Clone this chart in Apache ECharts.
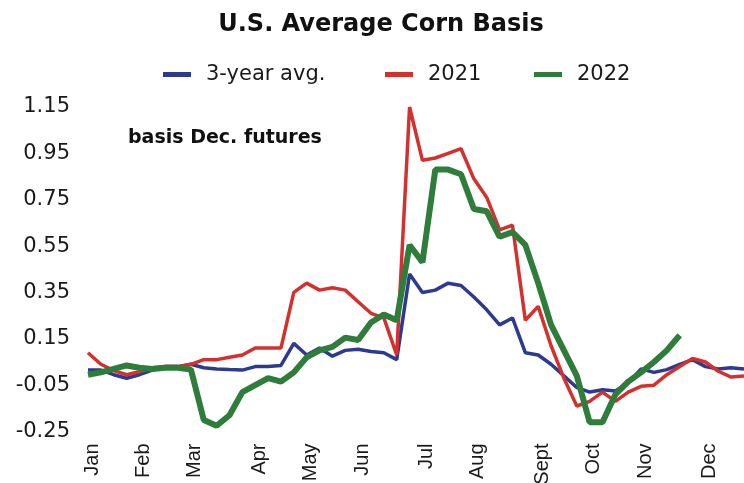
<!DOCTYPE html>
<html>
<head>
<meta charset="utf-8">
<script src="https://cdn.jsdelivr.net/npm/echarts@6/dist/echarts.min.js"></script>
<style>
  html, body { margin: 0; padding: 0; background: #ffffff; }
  #chart { width: 744px; height: 483px; }
</style>
</head>
<body>
<div id="chart"></div>
<script>
// Weekly corn basis vs. December futures, 52 weeks (index 0 = first week of Jan)
const weekCount = 52;
const monthNames = ['Jan', 'Feb', 'Mar', 'Apr', 'May', 'Jun', 'Jul', 'Aug', 'Sept', 'Oct', 'Nov', 'Dec'];
const monthStartWeek = [0, 4, 8, 13, 17, 21, 26, 30, 35, 39, 43, 48];
const yTickValues = [-0.25, -0.05, 0.15, 0.35, 0.55, 0.75, 0.95, 1.15];
const seriesNames = ['3-year avg.', '2021', '2022'];

const avg3yr = [
  0.015, 0.015, -0.005, -0.02, -0.005, 0.015, 0.03, 0.03, 0.04, 0.025,
  0.02, 0.017, 0.015, 0.03, 0.03, 0.035, 0.13, 0.08, 0.11, 0.075,
  0.10, 0.105, 0.095, 0.09, 0.06, 0.43, 0.35, 0.36, 0.39, 0.38,
  0.33, 0.275, 0.21, 0.24, 0.09, 0.08, 0.04, -0.01, -0.06, -0.08,
  -0.07, -0.075, -0.04, 0.02, 0.005, 0.017, 0.04, 0.06, 0.03, 0.02,
  0.025, 0.02
];
const basis2021 = [
  0.09, 0.04, 0.013, -0.005, 0.008, 0.025, 0.03, 0.03, 0.04, 0.06,
  0.06, 0.07, 0.08, 0.11, 0.11, 0.11, 0.35, 0.39, 0.36, 0.37,
  0.36, 0.31, 0.26, 0.24, 0.08, 1.15, 0.92, 0.93, 0.95, 0.97,
  0.84, 0.76, 0.62, 0.64, 0.23, 0.29, 0.12, -0.02, -0.14, -0.12,
  -0.08, -0.12, -0.08, -0.055, -0.05, -0.005, 0.03, 0.065, 0.05, 0.01,
  -0.015, -0.01
];
const basis2022 = [
  -0.005, 0.005, 0.02, 0.035, 0.025, 0.02, 0.025, 0.025, 0.017, -0.20,
  -0.225, -0.18, -0.08, -0.05, -0.02, -0.035, 0.005, 0.07, 0.10, 0.115,
  0.155, 0.145, 0.22, 0.255, 0.23, 0.555, 0.48, 0.88, 0.88, 0.86,
  0.71, 0.70, 0.59, 0.61, 0.555, 0.39, 0.21, 0.10, -0.01, -0.21,
  -0.21, -0.09, -0.035, 0.005, 0.05, 0.10, 0.165
];

const colors = ['#2c3b8f', '#d4302e', '#2e7d3b'];

// category per week; only the first week of each month carries a label
const weekLabels = [];
for (let i = 0; i < weekCount; i++) {
  const m = monthStartWeek.indexOf(i);
  weekLabels.push(m >= 0 ? monthNames[m] : '');
}

const sansWide = "'DejaVu Sans', sans-serif";
const sans = "'Liberation Sans', Arial, sans-serif";

function legendFor(idx, left) {
  return {
    data: [seriesNames[idx]],
    left: left,
    top: 64,
    padding: 0,
    icon: 'rect',
    itemWidth: 28,
    itemHeight: 5,
    selectedMode: false,
    textStyle: {
      fontFamily: sansWide,
      fontSize: 21,
      color: '#1a1a1a',
      padding: [0, 0, 0, 10]
    }
  };
}

const chart = echarts.init(document.getElementById('chart'), null, { renderer: 'canvas' });
chart.setOption({
  animation: false,
  backgroundColor: '#ffffff',
  color: colors,
  title: [
    {
      text: 'U.S. Average Corn Basis',
      left: 381,
      top: 13,
      padding: 0,
      textAlign: 'center',
      textStyle: { fontFamily: sansWide, fontWeight: 'bold', fontSize: 24, color: '#111111' }
    },
    {
      text: 'basis Dec. futures',
      left: 128,
      top: 129,
      padding: 0,
      textStyle: { fontFamily: sansWide, fontWeight: 'bold', fontSize: 19, color: '#111111' }
    }
  ],
  legend: [legendFor(0, 163), legendFor(1, 385), legendFor(2, 534)],
  grid: {
    left: 88, right: 0, top: 107, bottom: 51.5,
    containLabel: false,
    outerBoundsMode: 'none'
  },
  xAxis: {
    type: 'category',
    data: weekLabels,
    boundaryGap: false,
    axisLine: { show: false },
    axisTick: { show: false },
    splitLine: { show: false },
    axisLabel: {
      interval: 0,
      rotate: 90,
      margin: 12,
      verticalAlign: 'top',
      lineHeight: 8,
      fontFamily: sans,
      fontSize: 20,
      color: '#1a1a1a'
    }
  },
  yAxis: {
    type: 'value',
    min: -0.25,
    max: 1.15,
    axisLine: { show: false },
    axisTick: { show: false },
    splitLine: { show: false },
    axisLabel: {
      customValues: yTickValues,
      margin: 18,
      fontFamily: sansWide,
      fontSize: 21,
      color: '#1a1a1a',
      formatter: v => v.toFixed(2)
    }
  },
  series: [
    {
      name: seriesNames[0], type: 'line', data: avg3yr, showSymbol: false, clip: false,
      lineStyle: { width: 3.5, color: colors[0] }, z: 2
    },
    {
      name: seriesNames[1], type: 'line', data: basis2021, showSymbol: false, clip: false,
      lineStyle: { width: 3.5, color: colors[1] }, z: 3
    },
    {
      name: seriesNames[2], type: 'line', data: basis2022, showSymbol: false, clip: false,
      lineStyle: { width: 6, color: colors[2] }, z: 4
    }
  ]
});
</script>
</body>
</html>
